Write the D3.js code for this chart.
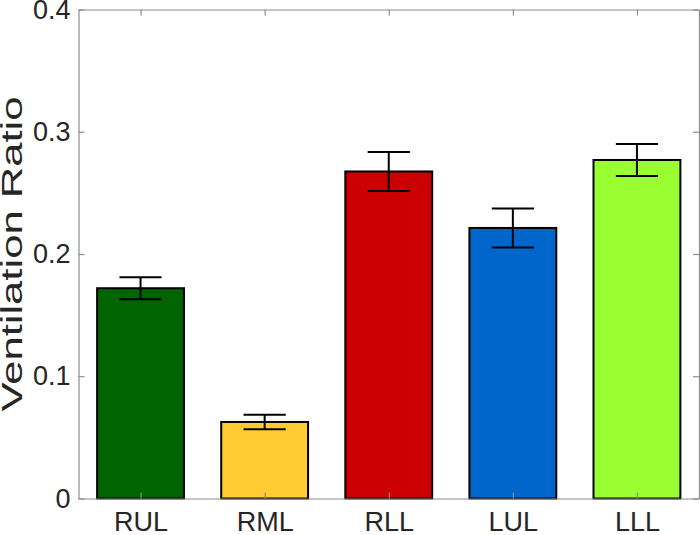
<!DOCTYPE html>
<html>
<head>
<meta charset="utf-8">
<script src="https://cdn.jsdelivr.net/npm/d3@7"></script>
<style>
  html, body { margin: 0; padding: 0; background: #fff; }
  svg { display: block; }
  text { font-family: "Liberation Sans", Arial, Helvetica, sans-serif; fill: #262626; }
</style>
</head>
<body>
<svg id="chart" width="700" height="535"></svg>
<script>
const categories = ["RUL", "RML", "RLL", "LUL", "LLL"];
const values = [0.172, 0.0626, 0.2675, 0.2213, 0.2769];
const errors = [0.009, 0.006, 0.016, 0.016, 0.013];
const colors = ["#006400", "#FFCC33", "#CC0000", "#0066CC", "#99FF33"];
const yTicks = [0, 0.1, 0.2, 0.3, 0.4];
const yLabel = "Ventilation Ratio";

(function () {
const mLeft = 78.5, mRight = 699, mTop = 9.5, mBottom = 498.5;
const svg = d3.select("#chart");

const x = d3.scaleLinear().domain([0.5, categories.length + 0.5]).range([mLeft, mRight]);
const y = d3.scaleLinear().domain([0, 0.4]).range([mBottom, mTop]);
const barW = 0.7;
const capHalf = 0.17;
const axisColor = "#8c8c8c";

const data = categories.map((c, i) => ({c, i: i + 1, v: values[i], e: errors[i], col: colors[i]}));

svg.append("g").selectAll("rect").data(data).join("rect")
  .attr("x", d => x(d.i - barW / 2))
  .attr("y", d => y(d.v))
  .attr("width", d => x(d.i + barW / 2) - x(d.i - barW / 2))
  .attr("height", d => y(0) - y(d.v))
  .attr("fill", d => d.col)
  .attr("stroke", "#000")
  .attr("stroke-width", 2);

const eg = svg.append("g").attr("stroke", "#000").attr("stroke-width", 2).attr("fill", "none");
data.forEach(d => {
  eg.append("line").attr("x1", x(d.i)).attr("x2", x(d.i)).attr("y1", y(d.v - d.e)).attr("y2", y(d.v + d.e));
  eg.append("line").attr("x1", x(d.i - capHalf)).attr("x2", x(d.i + capHalf)).attr("y1", y(d.v + d.e)).attr("y2", y(d.v + d.e));
  eg.append("line").attr("x1", x(d.i - capHalf)).attr("x2", x(d.i + capHalf)).attr("y1", y(d.v - d.e)).attr("y2", y(d.v - d.e));
});

const yAxis = d3.axisLeft(y).tickValues(yTicks).tickFormat(d => d === 0 ? "0" : d3.format(".1f")(d)).tickSizeInner(-6).tickSizeOuter(0).tickPadding(8);
const gy = svg.append("g").attr("transform", `translate(${mLeft},0)`).call(yAxis);
const xAxis = d3.axisBottom(x).tickValues(data.map(d => d.i)).tickFormat((d, i) => categories[i]).tickSizeInner(-6).tickSizeOuter(0).tickPadding(13);
const gx = svg.append("g").attr("transform", `translate(0,${mBottom})`).call(xAxis);
const gyR = svg.append("g").attr("transform", `translate(${mRight},0)`).call(d3.axisRight(y).tickValues(yTicks).tickFormat("").tickSizeInner(-6).tickSizeOuter(0));
const gxT = svg.append("g").attr("transform", `translate(0,${mTop})`).call(d3.axisTop(x).tickValues(data.map(d => d.i)).tickFormat("").tickSizeInner(-6).tickSizeOuter(0));

[gy, gx, gyR, gxT].forEach(g => {
  g.selectAll(".domain").attr("stroke", axisColor).attr("stroke-width", 1.2);
  g.selectAll(".tick line").attr("stroke", axisColor).attr("stroke-width", 1.2);
});
gy.selectAll(".tick text").attr("font-size", 27).attr("fill", "#262626").style("font-family", "'Liberation Sans', Arial, sans-serif");
gx.selectAll(".tick text").attr("font-size", 27).attr("fill", "#262626").style("font-family", "'Liberation Sans', Arial, sans-serif");

svg.append("text")
  .attr("transform", `translate(22,${(mTop + mBottom) / 2}) rotate(-90)`)
  .attr("text-anchor", "middle")
  .attr("font-size", 29)
  .attr("textLength", 315)
  .attr("lengthAdjust", "spacingAndGlyphs")
  .text(yLabel);
})();
</script>
</body>
</html>
